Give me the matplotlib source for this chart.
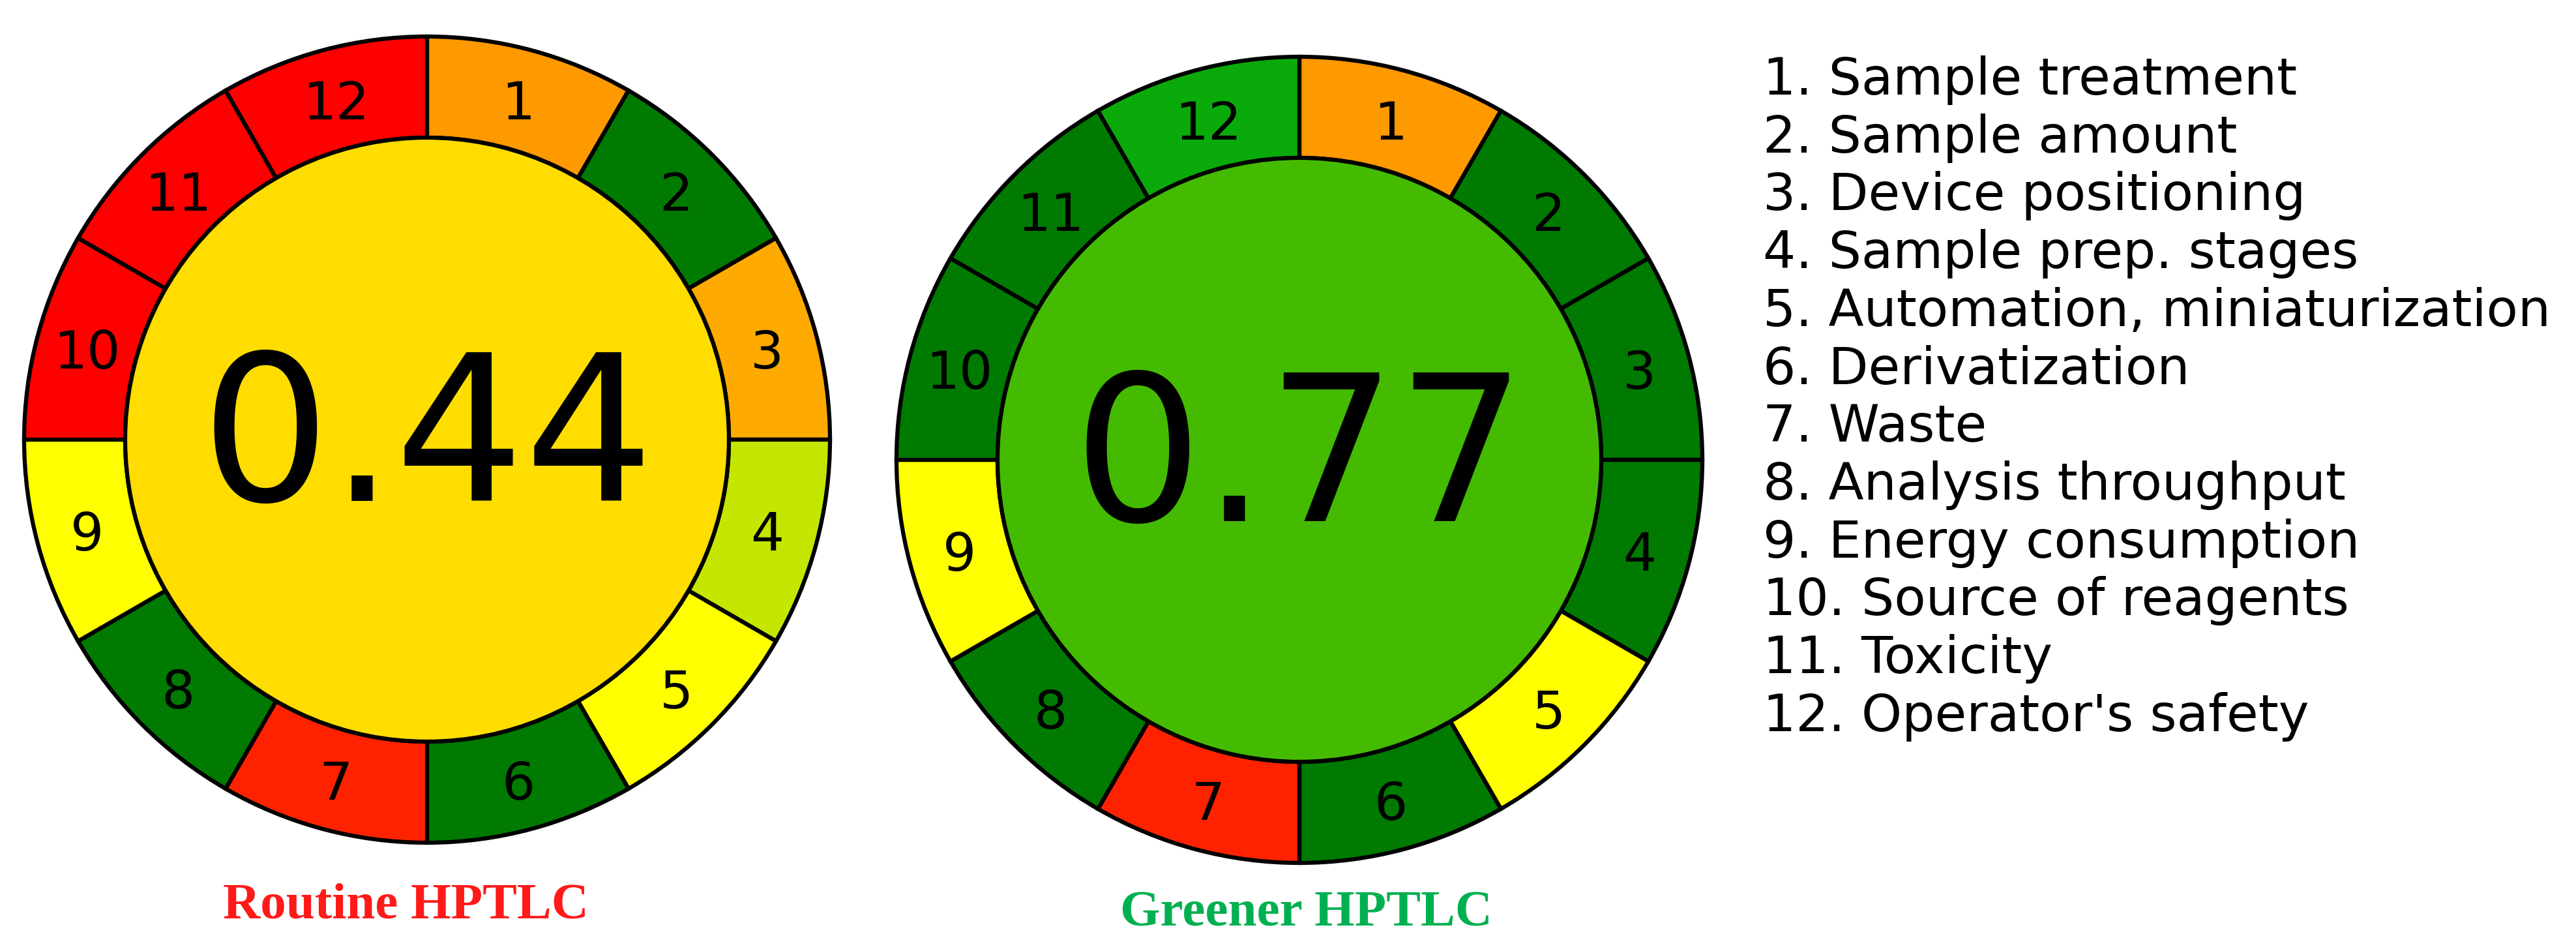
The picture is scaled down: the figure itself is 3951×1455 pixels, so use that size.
import matplotlib.pyplot as plt
from matplotlib.patches import Circle

# criteria of the AGREEprep wheel
criteria = ['Sample treatment', 'Sample amount', 'Device positioning',
            'Sample prep. stages', 'Automation, miniaturization', 'Derivatization',
            'Waste', 'Analysis throughput', 'Energy consumption',
            'Source of reagents', 'Toxicity', "Operator's safety"]
seg_labels = [str(i) for i in range(1, 13)]
weights = [1] * 12

routine_colors = ['#FF9900', '#007A00', '#FFAA00', '#C5E600', '#FFFF00', '#007A00',
                  '#FF2200', '#007A00', '#FFFF00', '#FF0000', '#FF0000', '#FF0000']
routine_score = '0.44'
routine_face = '#FFDD00'
routine_title = 'Routine HPTLC'

greener_colors = ['#FF9900', '#007A00', '#007A00', '#007A00', '#FFFF00', '#007A00',
                  '#FF2200', '#007A00', '#FFFF00', '#007A00', '#007A00', '#0AAA0A']
greener_score = '0.77'
greener_face = '#44BB00'
greener_title = 'Greener HPTLC'

W, H = 3951, 1455
R, r = 618, 463
lw = 4.5

fig = plt.figure(figsize=(W / 100, H / 100), dpi=100)
ax = fig.add_axes([0, 0, 1, 1])


def wheel(colors, score, face, cx, cy):
    wedges, texts = ax.pie(weights, colors=colors, labels=seg_labels, startangle=90,
                           counterclock=False, radius=R, center=(cx, cy),
                           labeldistance=0.874,
                           wedgeprops=dict(width=R - r, edgecolor='black', linewidth=lw),
                           textprops=dict(fontsize=58, color='black'))
    for t in texts:
        t.set_ha('center')
        t.set_va('center_baseline')
    ax.add_patch(Circle((cx, cy), r, facecolor=face, edgecolor='black', linewidth=lw, zorder=3))
    ax.text(cx, cy - 0.152 * R, score, fontsize=225, ha='center', va='baseline', zorder=4)


wheel(routine_colors, routine_score, routine_face, 655, H - 674)
wheel(greener_colors, greener_score, greener_face, 1993, H - 705)

ax.text(622, H - 1407, routine_title, family='Liberation Serif', weight='bold',
        fontsize=57, color='#FF1A1A', ha='center', va='baseline')
ax.text(2003, H - 1419, greener_title, family='Liberation Serif', weight='bold',
        fontsize=57, color='#00B050', ha='center', va='baseline')

for i, name in enumerate(criteria):
    ax.text(2704, H - (145 + i * 88.7), f'{i + 1}. {name}', fontsize=57,
            ha='left', va='baseline')

ax.set_xlim(0, W)
ax.set_ylim(0, H)
ax.set_aspect('auto')
ax.axis('off')

fig.savefig('out.png', dpi=100)
